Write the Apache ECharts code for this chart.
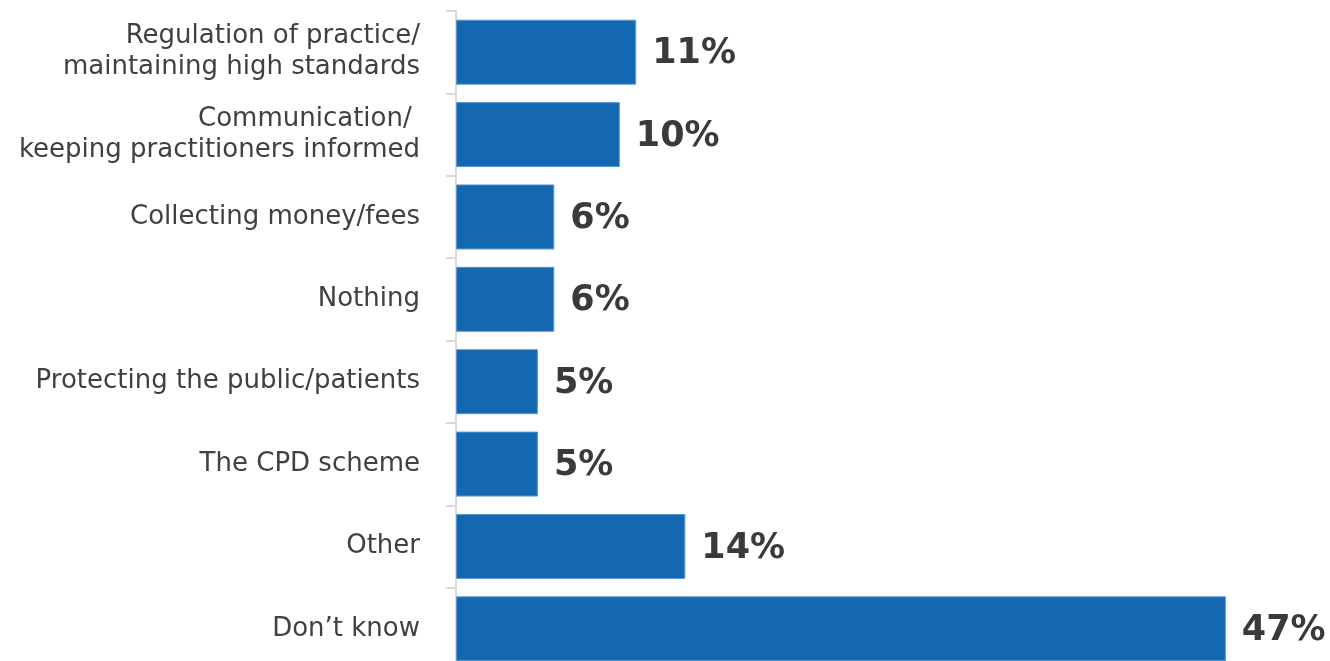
<!DOCTYPE html>
<html>
<head>
<meta charset="utf-8">
<script src="https://cdn.jsdelivr.net/npm/echarts@6/dist/echarts.min.js"></script>
<style>
  html, body { margin: 0; padding: 0; background: #ffffff; }
  #chart { width: 1330px; height: 661px; }
</style>
</head>
<body>
<div id="chart"></div>
<script>
// Answers, listed top to bottom
const categories = [
  'Regulation of practice/\nmaintaining high standards',
  'Communication/ \nkeeping practitioners informed',
  'Collecting money/fees',
  'Nothing',
  'Protecting the public/patients',
  'The CPD scheme',
  'Other',
  'Don\u2019t know'
];
// Share of respondents, percent
const shares = [11, 10, 6, 6, 5, 5, 14, 47];

const chart = echarts.init(document.getElementById('chart'), null, { renderer: 'canvas' });

chart.setOption({
  animation: false,
  backgroundColor: '#ffffff',
  // the last band runs a little past the bottom edge of the page
  grid: {
    left: 456, top: 11, width: 819, height: 659,
    containLabel: false,
    outerBoundsMode: 'none'
  },
  xAxis: {
    type: 'value',
    min: 0,
    max: 50,
    show: false
  },
  yAxis: {
    type: 'category',
    data: categories,
    inverse: true,
    axisLine: { show: true, lineStyle: { color: '#d9d9d9', width: 2 } },
    axisTick: { show: true, length: 10, lineStyle: { color: '#d9d9d9', width: 2 } },
    axisLabel: {
      margin: 36,
      color: '#404040',
      fontFamily: 'DejaVu Sans',
      fontSize: 26,
      lineHeight: 31,
      align: 'right'
    },
    splitLine: { show: false }
  },
  series: [{
    type: 'bar',
    data: shares,
    barWidth: 65,
    itemStyle: { color: '#1468b2', borderColor: '#5b97d3', borderWidth: 1 },
    label: {
      show: true,
      position: 'right',
      distance: 16,
      offset: [0, 2],
      formatter: (p) => p.value + '%',
      color: '#3a3a3a',
      fontFamily: 'DejaVu Sans',
      fontWeight: 'bold',
      fontSize: 35
    }
  }]
});
</script>
</body>
</html>
